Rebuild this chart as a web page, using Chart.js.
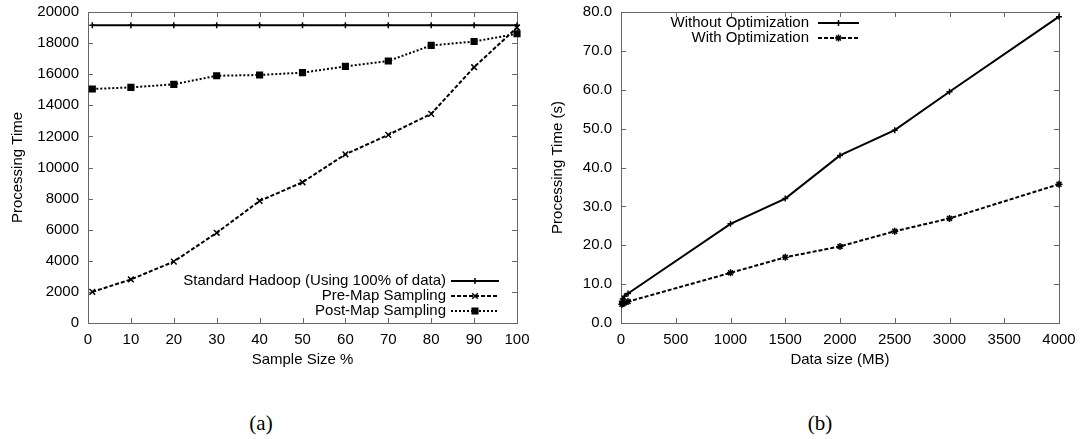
<!DOCTYPE html>
<html>
<head>
<meta charset="utf-8">
<title>Processing Time</title>
<script src="https://cdn.jsdelivr.net/npm/chart.js@4.4.1/dist/chart.umd.min.js"></script>
<style>
  body { margin: 0; background: #fff; }
  #page { position: relative; width: 1082px; height: 439px; overflow: hidden; }
  canvas { position: absolute; top: 0; }
  #chartA { left: 0; }
  #chartB { left: 540px; }
  .caption {
    position: absolute; top: 411px; width: 60px; margin-left: -30px;
    text-align: center; font: 21px "Liberation Serif", serif; color: #000;
  }
</style>
</head>
<body>
<div id="page">
  <canvas id="chartA" width="540" height="380"></canvas>
  <canvas id="chartB" width="542" height="380"></canvas>
  <div class="caption" style="left:261px">(a)</div>
  <div class="caption" style="left:820px">(b)</div>
</div>
<script>
// (a) processing time against sample size
const sampleSizes = [1, 10, 20, 30, 40, 50, 60, 70, 80, 90, 100];
const standardHadoop = [19150, 19150, 19150, 19150, 19150, 19150, 19150, 19150, 19150, 19150, 19150];
const preMapSampling = [2000, 2800, 3950, 5800, 7850, 9050, 10850, 12100, 13450, 16450, 19000];
const postMapSampling = [15050, 15150, 15350, 15900, 15950, 16100, 16500, 16850, 17850, 18100, 18600];
const sampleTicks = [0, 10, 20, 30, 40, 50, 60, 70, 80, 90, 100];
const timeTicks = [0, 2000, 4000, 6000, 8000, 10000, 12000, 14000, 16000, 18000, 20000];

// (b) processing time against data size
const dataSizes = [8, 16, 32, 64, 1000, 1500, 2000, 2500, 3000, 4000];
const withoutOptimization = [5.6, 6.2, 6.9, 7.6, 25.5, 32.0, 43.1, 49.6, 59.5, 78.8];
const withOptimization = [4.8, 5.0, 5.2, 5.5, 12.9, 16.9, 19.7, 23.6, 26.9, 35.7];
const sizeTicks = [0, 500, 1000, 1500, 2000, 2500, 3000, 3500, 4000];
const secondTicks = [0, 10, 20, 30, 40, 50, 60, 70, 80];

const FONT = "'Liberation Sans', Arial, sans-serif";
const SIZE = 15;
const FRAME = '#666';

function points(xs, ys) {
    return xs.map((x, i) => ({ x: x, y: ys[i] }));
}

function series(label, xs, ys, dash, style, radius) {
    return {
        label: label,
        data: points(xs, ys),
        borderColor: '#000',
        backgroundColor: '#000',
        borderWidth: 2,
        borderDash: dash,
        pointStyle: style,
        pointRadius: radius,
        pointBorderWidth: 1.5,
        pointBackgroundColor: '#000',
        pointBorderColor: '#000',
        tension: 0,
        clip: false
    };
}

// box around the plot with short inward ticks on every side
const frameTicks = {
    id: 'frameTicks',
    beforeDatasetsDraw(chart) {
        const { ctx, chartArea: a, scales } = chart;
        ctx.save();
        ctx.strokeStyle = FRAME;
        ctx.lineWidth = 1;
        ctx.strokeRect(Math.round(a.left) + 0.5, Math.round(a.top) + 0.5,
            Math.round(a.right - a.left), Math.round(a.bottom - a.top));
        ctx.beginPath();
        scales.x.ticks.forEach(t => {
            const px = Math.round(scales.x.getPixelForValue(t.value)) + 0.5;
            ctx.moveTo(px, a.bottom); ctx.lineTo(px, a.bottom - 5);
            ctx.moveTo(px, a.top); ctx.lineTo(px, a.top + 5);
        });
        scales.y.ticks.forEach(t => {
            const py = Math.round(scales.y.getPixelForValue(t.value)) + 0.5;
            ctx.moveTo(a.left, py); ctx.lineTo(a.left + 5, py);
            ctx.moveTo(a.right, py); ctx.lineTo(a.right - 5, py);
        });
        ctx.stroke();
        ctx.restore();
    }
};

// key with the text on the left and the line sample on the right
const sideLegend = {
    id: 'sideLegend',
    afterDraw(chart, args, opts) {
        const ctx = chart.ctx;
        ctx.save();
        ctx.font = SIZE + 'px ' + FONT;
        ctx.textAlign = 'right';
        ctx.textBaseline = 'middle';
        chart.data.datasets.forEach((ds, i) => {
            const y = opts.top + i * opts.rowGap;
            const x0 = opts.lineEnd - opts.lineLen;
            ctx.fillStyle = '#000';
            ctx.fillText(ds.label, x0 - opts.gap, y);
            ctx.strokeStyle = '#000';
            ctx.lineWidth = ds.borderWidth;
            ctx.setLineDash(ds.borderDash || []);
            ctx.beginPath();
            ctx.moveTo(x0, y);
            ctx.lineTo(opts.lineEnd, y);
            ctx.stroke();
            ctx.setLineDash([]);
            ctx.lineWidth = ds.pointBorderWidth;
            Chart.helpers.drawPoint(ctx, {
                pointStyle: ds.pointStyle, radius: ds.pointRadius, rotation: 0, borderWidth: ds.pointBorderWidth
            }, x0 + opts.lineLen / 2, y);
        });
        ctx.restore();
    }
};

function makeOptions(cfg) {
    return {
        responsive: false,
        animation: false,
        devicePixelRatio: 1,
        layout: { padding: { top: 12, right: 23, left: 0, bottom: 0 } },
        plugins: {
            legend: { display: false },
            tooltip: { enabled: false },
            sideLegend: cfg.legend
        },
        scales: {
            x: {
                type: 'linear',
                min: cfg.xTicks[0],
                max: cfg.xTicks[cfg.xTicks.length - 1],
                afterBuildTicks: s => { s.ticks = cfg.xTicks.map(v => ({ value: v })); },
                afterFit: s => {
                    s.height = 57;
                    s.paddingLeft = 0;
                    s.paddingRight = 0;
                },
                grid: { display: false, drawTicks: false },
                border: { display: false },
                ticks: {
                    color: '#000', padding: 8, maxRotation: 0, font: { family: FONT, size: SIZE },
                    callback: v => String(v)
                },
                title: {
                    display: true, text: cfg.xTitle, color: '#000',
                    padding: { top: 0, bottom: 11 }, font: { family: FONT, size: SIZE }
                }
            },
            y: {
                type: 'linear',
                min: cfg.yTicks[0],
                max: cfg.yTicks[cfg.yTicks.length - 1],
                afterBuildTicks: s => { s.ticks = cfg.yTicks.map(v => ({ value: v })); },
                afterFit: s => {
                    s.width = cfg.yWidth;
                    s.paddingTop = 0;
                    s.paddingBottom = 0;
                },
                grid: { display: false, drawTicks: false },
                border: { display: false },
                ticks: {
                    color: '#000', padding: 9, font: { family: FONT, size: SIZE },
                    callback: cfg.yFormat
                },
                title: {
                    display: true, text: cfg.yTitle, color: '#000',
                    padding: { top: 9, bottom: 0 }, font: { family: FONT, size: SIZE }
                }
            }
        }
    };
}

new Chart(document.getElementById('chartA'), {
    type: 'line',
    data: {
        datasets: [
            series('Standard Hadoop (Using 100% of data)', sampleSizes, standardHadoop, [], 'cross', 3),
            series('Pre-Map Sampling', sampleSizes, preMapSampling, [4, 2], 'crossRot', 4),
            series('Post-Map Sampling', sampleSizes, postMapSampling, [2, 2], 'rect', 4)
        ]
    },
    options: makeOptions({
        xTicks: sampleTicks, yTicks: timeTicks, yWidth: 88,
        xTitle: 'Sample Size %', yTitle: 'Processing Time',
        yFormat: v => String(v),
        legend: { top: 281, rowGap: 15, lineEnd: 499, lineLen: 48, gap: 5 }
    }),
    plugins: [frameTicks, sideLegend]
});

new Chart(document.getElementById('chartB'), {
    type: 'line',
    data: {
        datasets: [
            series('Without Optimization', dataSizes, withoutOptimization, [], 'cross', 3),
            series('With Optimization', dataSizes, withOptimization, [4, 2], 'star', 3.5)
        ]
    },
    options: makeOptions({
        xTicks: sizeTicks, yTicks: secondTicks, yWidth: 81,
        xTitle: 'Data size (MB)', yTitle: 'Processing Time (s)',
        yFormat: v => Number(v).toFixed(1),
        legend: { top: 23, rowGap: 15, lineEnd: 319, lineLen: 41, gap: 9 }
    }),
    plugins: [frameTicks, sideLegend]
});
</script>
</body>
</html>
